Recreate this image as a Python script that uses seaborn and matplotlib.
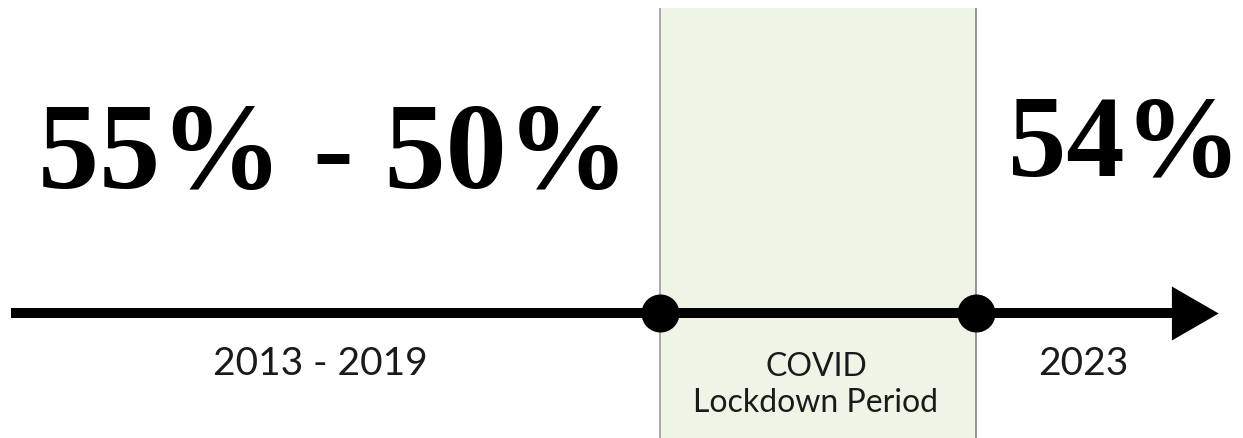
import matplotlib
matplotlib.use("Agg")
import matplotlib.pyplot as plt
import seaborn as sns
import pandas as pd

# ---- data ----
periods = ["2013 - 2019", "COVID\nLockdown Period", "2023"]
shares = ["55% - 50%", None, "54%"]
milestones = ["Lockdown start", "Lockdown end"]

# ---- layout (pixel-like canvas units) ----
W, H = 1243, 438
axis_y = 313
axis_start, axis_end = 11, 1218
milestone_x = [660, 976]
label_x = [320, 816, 1083]
label_base = [375, 376, 375]
share_x = [334, 1125]
share_base = [188, 176]
share_size = [88, 84]

sns.set_theme(style="white")
plt.rcParams["font.family"] = ["Lato", "DejaVu Sans"]

fig = plt.figure(figsize=(W / 100, H / 100), dpi=100)
ax = fig.add_axes([0, 0, 1, 1])
ax.set_xlim(0, W)
ax.set_ylim(H, 0)
ax.axis("off")

# shaded covid period
top_frac = (H - 8) / H
ax.axvspan(milestone_x[0], milestone_x[1], ymin=0, ymax=top_frac,
           color="#eef5e6", lw=0, zorder=0)
ax.vlines(milestone_x, 8, H, colors=["#a3a3a3", "#8c8c8c"], lw=1.3, zorder=1)

# timeline shaft
px = 72 / 100  # points per pixel
head_side = 54  # px
head_R = head_side / 3 ** 0.5
line_df = pd.DataFrame({"x": [axis_start, axis_end - head_R], "y": [axis_y, axis_y]})
sns.lineplot(data=line_df, x="x", y="y", color="black", lw=10 * px,
             solid_capstyle="butt", ax=ax, zorder=2)
# arrow head
ax.plot([axis_end - head_R], [axis_y], marker=(3, 0, -90),
        markersize=2 * head_R * px, color="black", mew=0, zorder=3)

# milestone dots
dots = pd.DataFrame({"x": milestone_x, "y": [axis_y] * len(milestone_x), "m": milestones})
sns.scatterplot(data=dots, x="x", y="y", s=(38 * px) ** 2, color="black",
                linewidth=0, ax=ax, zorder=4, legend=False)

# period labels
for x, base, lab in zip(label_x, label_base, periods):
    lines = lab.split("\n")
    if len(lines) == 1:
        ax.text(x, base, lab, ha="center", va="baseline", fontsize=28,
                color="#1a1a1a")
    else:
        for i, ln in enumerate(lines):
            ax.text(x, base + i * 36, ln, ha="center", va="baseline",
                    fontsize=23, color="#1a1a1a")

# big share numbers
k = 0
for s in shares:
    if s is None:
        continue
    ax.text(share_x[k], share_base[k], s, ha="center", va="baseline",
            fontsize=share_size[k], fontweight="bold",
            family=["Liberation Serif", "DejaVu Serif"], color="black")
    k += 1

ax.set_xlabel("")
ax.set_ylabel("")
fig.savefig("out.png", dpi=100)
